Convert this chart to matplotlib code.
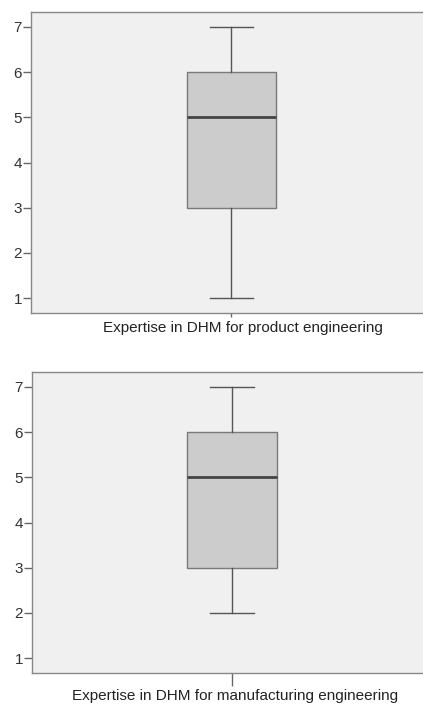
import matplotlib.pyplot as plt

# box statistics
labels = ["Expertise in DHM for product engineering",
          "Expertise in DHM for manufacturing engineering"]
whislo = [1, 2]
q1 = [3, 3]
med = [5, 5]
q3 = [6, 6]
whishi = [7, 7]
yticks = [1, 2, 3, 4, 5, 6, 7]

plt.rcParams['font.family'] = ['Liberation Sans', 'DejaVu Sans']

fig = plt.figure(figsize=(4.23, 7.04), dpi=100)
positions = [[31 / 423, 1 - 313 / 704, 395 / 423, 301 / 704],
             [32 / 423, 1 - 673 / 704, 394 / 423, 301 / 704]]
xtick_len = [3, 9]
label_xy = [(0.536, -0.027), (0.516, -0.053)]

for i in range(2):
    ax = fig.add_axes(positions[i])
    ax.set_facecolor('#f0f0f0')
    stats = [{'whislo': whislo[i], 'q1': q1[i], 'med': med[i],
              'q3': q3[i], 'whishi': whishi[i], 'fliers': []}]
    ax.bxp(stats, positions=[0], widths=0.9, patch_artist=True,
           showfliers=False,
           boxprops=dict(facecolor='#cccccc', edgecolor='#7a7a7a', linewidth=1),
           medianprops=dict(color='#444444', linewidth=2),
           whiskerprops=dict(color='#555555', linewidth=1),
           capprops=dict(color='#555555', linewidth=1),
           capwidths=0.44)
    ax.set_xlim(-2.01, 1.95)
    ax.set_ylim(0.67, 7.33)
    ax.set_yticks(yticks)
    ax.set_xticks([0])
    ax.set_xticklabels([''])
    ax.set_xlabel(labels[i], fontsize=11, color='#222222')
    ax.xaxis.set_label_coords(*label_xy[i])
    ax.tick_params(axis='y', length=6, width=1, color='#666666',
                   labelsize=11, labelcolor='#333333', pad=0.5)
    ax.tick_params(axis='x', length=xtick_len[i], width=1, color='#666666')
    for s in ax.spines.values():
        s.set_color('#888888')
        s.set_linewidth(1)

fig.savefig('out.png', dpi=100)
